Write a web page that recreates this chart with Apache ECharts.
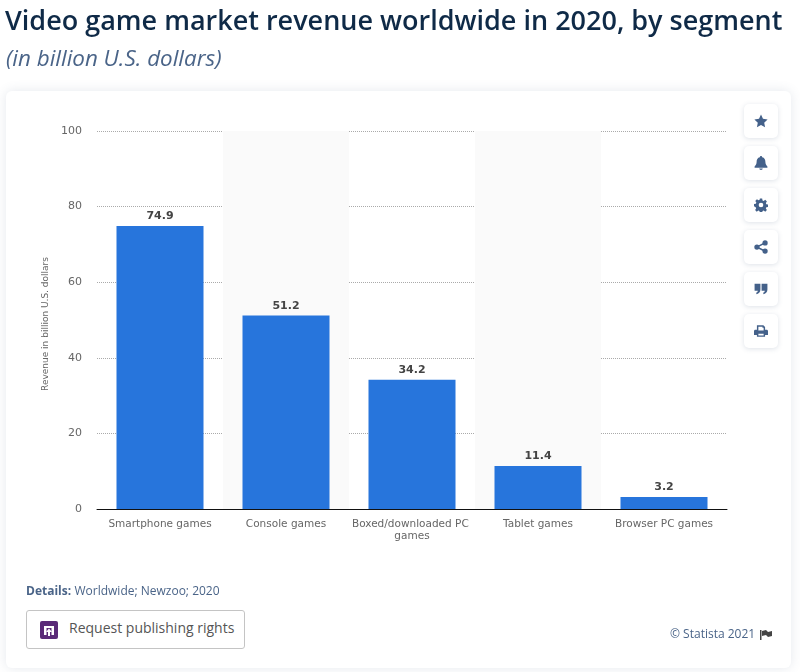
<!DOCTYPE html>
<html><head><meta charset="utf-8">
<script src="https://cdn.jsdelivr.net/npm/echarts@6/dist/echarts.min.js"></script>
<style>
html,body{margin:0;padding:0;background:#fff;width:800px;height:672px;overflow:hidden}
#card{position:absolute;left:6px;top:91px;width:785px;height:577px;background:#fff;border-radius:6px;box-shadow:0 0 12px rgba(70,95,130,.14)}
#chart{position:absolute;left:0;top:0;width:800px;height:672px}
.b{position:absolute;left:744px;width:34px;height:34px;background:#fff;border-radius:5px;box-shadow:0 1px 5px rgba(70,95,130,.18);display:flex;align-items:center;justify-content:center}
.b svg{width:14px;height:14px;fill:#44618a}
#req{position:absolute;left:26px;top:610px;width:217px;height:37px;border:1px solid #c4c4c4;border-radius:3px;background:#fff}
#req span{position:absolute;left:42px;top:7px;font:14px "Open Sans";color:#555;white-space:nowrap}
#req svg{position:absolute;left:13px;top:10px;width:18px;height:18px}
</style></head><body>
<div id="card"></div>
<div id="chart"></div>
<div class="b" style="top:104px"><svg viewBox="0 0 24 24"><path d="M12 1l3.400 7.300 7.900 1-5.800 5.500 1.500 7.900L12 18.800 5 22.700l1.500-7.900L.7 9.300l7.900-1z"/></svg></div>
<div class="b" style="top:146px"><svg viewBox="0 0 24 24"><path d="M12 0c1 0 2 .8 2 2 4 .8 5.500 4 5.500 8 0 4 1.500 6 3.500 8v2H1v-2c2-2 3.500-4 3.500-8 0-4 1.500-7.200 5.500-8 0-1.200 1-2 2-2zM9 21.500h6c0 1.500-1.300 2.500-3 2.500s-3-1-3-2.500z"/></svg></div>
<div class="b" style="top:188px"><svg viewBox="0 0 24 24"><path fill-rule="evenodd" d="M10 1h4l.6 3.200 2 .8 2.700-1.800 2.800 2.800-1.800 2.700.8 2 3.200.6v4l-3.200.6-.8 2 1.800 2.700-2.800 2.800-2.700-1.800-2 .8-.6 3.200h-4l-.6-3.200-2-.8-2.700 1.800-2.800-2.800 1.800-2.700-.8-2L0 14.300v-4l3.200-.6.8-2L2.200 5l2.800-2.800 2.700 1.800 2-.8zM12 8a4 4 0 1 0 0 8 4 4 0 0 0 0-8z"/></svg></div>
<div class="b" style="top:230px"><svg viewBox="0 0 24 24"><circle cx="5" cy="12" r="4.500"/><circle cx="19" cy="5" r="4.500"/><circle cx="19" cy="19" r="4.500"/><path d="M5 10.500L18 4l1 2.500L6 13zM6 11l13 6.500-1 2.500L5 13.500z"/></svg></div>
<div class="b" style="top:272px"><svg viewBox="0 0 24 24"><path d="M1 3h10v10c0 4-2.500 7-6.500 8l-1-2.500c2-.8 3-2 3-3.500H1zM13 3h10v10c0 4-2.500 7-6.500 8l-1-2.500c2-.8 3-2 3-3.500H13z"/></svg></div>
<div class="b" style="top:314px"><svg viewBox="0 0 24 24"><path fill-rule="evenodd" d="M5 2h11l3 3v5h2.500C23 10 24 11 24 12.500V19h-5v3H5v-3H0v-6.500C0 11 1 10 2.500 10H5zM7.500 4.500V11h9V6.500h-2v-2zM7.500 16.500v3h9v-3z"/></svg></div>
<div id="req"><svg viewBox="0 0 18 18"><rect width="18" height="18" rx="2" fill="#5a2a78"/><path d="M4 14V5h10v9h-2.500V7h-5v7z" fill="#fff"/><path d="M9 7.500l3 3.500h-2v4H8v-4H6z" fill="#fff"/></svg><span>Request publishing rights</span></div>
<script>
var categories = ['Smartphone games','Console games','Boxed/downloaded PC games','Tablet games','Browser PC games'];
var revenue = [74.9,51.2,34.2,11.4,3.2];
var yTicks = {min:0,max:100,interval:20};
var titleText = 'Video game market revenue worldwide in 2020, by segment';
var subtitleText = '(in billion U.S. dollars)';
var yAxisTitle = 'Revenue in billion U.S. dollars';
var chart = echarts.init(document.getElementById('chart'));
var ff = '"DejaVu Sans"';
chart.setOption({
  animation:false,
  title:[
    {text:titleText,left:5,top:4,padding:0,textStyle:{fontFamily:'"Open Sans"',fontSize:27,lineHeight:36,fontWeight:600,color:'#0f2a47'}},
    {text:subtitleText,left:6,top:45,padding:0,textStyle:{fontFamily:'"Open Sans"',fontSize:22.4,lineHeight:30,fontStyle:'italic',fontWeight:400,color:'#4a6488'}}
  ],
  grid:{left:97,right:73,top:131,bottom:163},
  xAxis:{type:'category',data:categories,
    axisTick:{show:false},
    axisLine:{lineStyle:{color:'#111',width:1}},
    splitArea:{show:true,areaStyle:{color:['rgba(0,0,0,0)','#fafafa']}},
    axisLabel:{interval:0,width:124,overflow:'break',margin:9,lineHeight:12,fontFamily:ff,fontSize:10.5,color:'#666'}},
  yAxis:{type:'value',min:yTicks.min,max:yTicks.max,interval:yTicks.interval,
    name:yAxisTitle,nameLocation:'middle',nameGap:46,
    nameTextStyle:{fontFamily:ff,fontSize:9,color:'#666',padding:[0,0,0,-8]},
    axisLine:{show:false},axisTick:{show:false},
    axisLabel:{margin:15,fontFamily:ff,fontSize:11,color:'#666'},
    splitLine:{lineStyle:{type:'dotted',color:'#aaa',width:1}}},
  series:[{type:'bar',data:revenue,barWidth:87,
    itemStyle:{color:'#2775dc'},
    label:{show:true,position:'top',distance:4,formatter:function(p){return p.value.toFixed(1);},fontFamily:ff,fontSize:11,fontWeight:'bold',color:'#444'}}],
  graphic:[
    {type:'text',left:26,top:586,style:{rich:{a:{font:'bold 12px "Open Sans"',fill:'#4a6488'},b:{font:'12px "Open Sans"',fill:'#4a6488'}},text:'{a|Details:} {b|Worldwide; Newzoo; 2020}'}},
    {type:'text',left:670,top:629,style:{text:'© Statista 2021',font:'12px "Open Sans"',fill:'#4a6488'}},
    {type:'polygon',shape:{points:[[760,630],[761.500,630],[761.500,640],[760,640]]},style:{fill:'#444'}},
    {type:'polygon',shape:{points:[[762,631],[766,630],[768,632],[772,631],[772,636],[768,637],[766,635],[762,636]]},style:{fill:'#444'}}
  ]
});
</script>
</body></html>
